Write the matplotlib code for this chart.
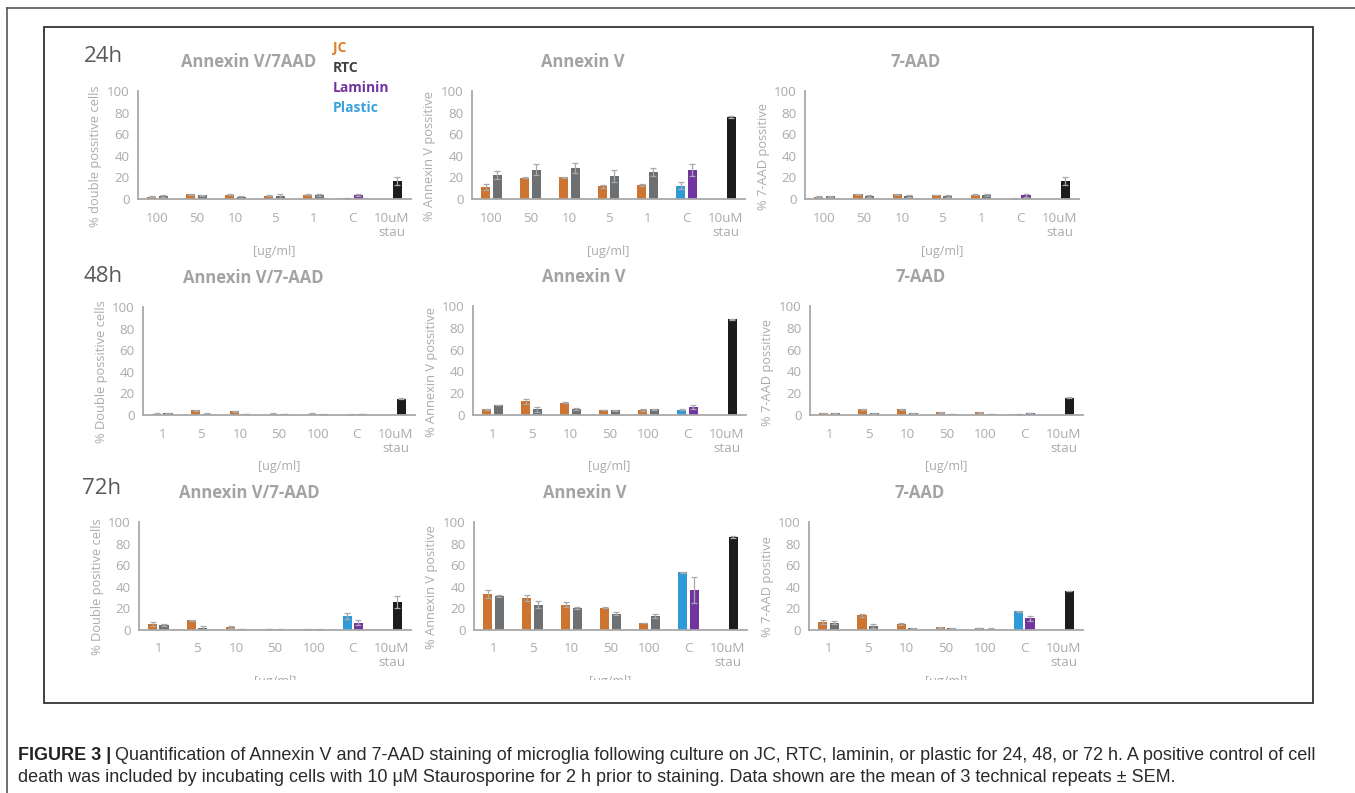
import matplotlib
matplotlib.use("Agg")
import matplotlib.pyplot as plt
from matplotlib.patches import Rectangle
from matplotlib.lines import Line2D

W, H = 1355, 793

# group labels
conc_24 = ['100', '50', '10', '5', '1', 'C', '10uM\nstau']
conc_48 = ['1', '5', '10', '50', '100', 'C', '10uM\nstau']

# 24h - double positive
jc_24_dp = [2.2, 4.3, 4.0, 3.0, 4.0]
jc_24_dp_err = [0.5, 0.5, 0.5, 0.5, 0.5]
rtc_24_dp = [2.8, 3.4, 2.2, 2.8, 3.7]
rtc_24_dp_err = [0.5, 0.6, 1.0, 1.5, 1.0]
ctl_24_dp = [0.5, 3.5, 16.4]       # plastic, laminin, stau
ctl_24_dp_err = [0.2, 1.0, 3.7]

# 24h - annexin V
jc_24_av = [11.0, 19.7, 20.0, 11.7, 13.0]
jc_24_av_err = [2.5, 0.5, 0.5, 1.5, 0.8]
rtc_24_av = [22.0, 27.0, 28.6, 21.5, 25.0]
rtc_24_av_err = [3.5, 5.0, 4.3, 5.5, 4.0]
ctl_24_av = [12.3, 26.5, 75.7]
ctl_24_av_err = [3.0, 5.5, 0.8]

# 24h - 7-AAD
jc_24_aad = [2.2, 4.3, 4.3, 3.7, 4.0]
jc_24_aad_err = [0.4, 0.4, 0.4, 0.4, 0.4]
rtc_24_aad = [2.5, 3.0, 2.8, 3.0, 3.4]
rtc_24_aad_err = [0.5, 1.0, 0.5, 1.0, 1.0]
ctl_24_aad = [0.3, 3.4, 16.6]
ctl_24_aad_err = [0.2, 1.5, 4.0]

# 48h - double positive
jc_48_dp = [1.2, 4.3, 3.4, 1.2, 1.2]
jc_48_dp_err = [0.3, 0.6, 0.6, 0.3, 0.3]
rtc_48_dp = [1.8, 1.2, 0.9, 0.9, 0.6]
rtc_48_dp_err = [0.3, 0.3, 0.2, 0.2, 0.2]
ctl_48_dp = [0.4, 1.0, 15.0]
ctl_48_dp_err = [0.2, 0.3, 0.5]

# 48h - annexin V
jc_48_av = [5.2, 12.5, 11.3, 4.6, 4.6]
jc_48_av_err = [0.4, 2.0, 0.5, 0.4, 0.5]
rtc_48_av = [9.2, 5.2, 5.8, 4.3, 5.2]
rtc_48_av_err = [0.4, 2.0, 1.0, 0.3, 0.4]
ctl_48_av = [4.9, 7.6, 87.8]
ctl_48_av_err = [0.4, 2.0, 0.5]

# 48h - 7-AAD
jc_48_aad = [1.5, 5.2, 5.2, 2.4, 2.4]
jc_48_aad_err = [0.2, 0.3, 0.3, 0.3, 0.3]
rtc_48_aad = [1.5, 1.5, 1.5, 0.9, 0.9]
rtc_48_aad_err = [0.2, 0.2, 0.2, 0.2, 0.2]
ctl_48_aad = [0.6, 1.8, 15.9]
ctl_48_aad_err = [0.2, 0.3, 0.3]

# 72h - double positive
jc_72_dp = [5.8, 9.2, 2.5, 0.9, 0.5]
jc_72_dp_err = [2.0, 0.5, 1.0, 0.2, 0.2]
rtc_72_dp = [4.6, 2.2, 0.9, 0.9, 0.5]
rtc_72_dp_err = [1.0, 1.8, 0.2, 0.2, 0.2]
ctl_72_dp = [13.0, 6.8, 26.0]
ctl_72_dp_err = [2.5, 2.0, 5.4]

# 72h - annexin V
jc_72_av = [33.4, 29.8, 23.6, 20.6, 6.4]
jc_72_av_err = [4.0, 2.5, 2.5, 0.3, 0.3]
rtc_72_av = [31.6, 23.6, 20.0, 15.0, 12.9]
rtc_72_av_err = [1.0, 3.4, 1.0, 1.5, 2.0]
ctl_72_av = [53.4, 37.0, 86.5]
ctl_72_av_err = [0.3, 11.7, 1.0]

# 72h - 7-AAD
jc_72_aad = [7.7, 13.5, 5.2, 2.4, 1.8]
jc_72_aad_err = [1.8, 1.0, 1.0, 0.2, 0.2]
rtc_72_aad = [6.7, 3.4, 1.5, 1.5, 1.2]
rtc_72_aad_err = [1.5, 2.0, 0.2, 0.2, 0.2]
ctl_72_aad = [17.2, 10.7, 36.2]
ctl_72_aad_err = [0.3, 2.5, 0.3]

c_jc = '#CC7430'
c_rtc = '#6D7073'
c_lam = '#7134A0'
c_pla = '#2E9BD8'
c_stau = '#1C1C1C'
c_axis = '#A8A8A8'
c_tick = '#ABABAB'
c_title = '#A3A3A3'
c_err = '#A9A9A9'

font = ['Open Sans', 'DejaVu Sans']

fig = plt.figure(figsize=(W / 100, H / 100), dpi=100)


def box(x0, top, x1, base):
    return [x0 / W, 1 - base / H, (x1 - x0) / W, (base - top) / H]


def draw_panel(x0, top, x1, base, cats, jc, jc_err, rtc, rtc_err, ctl, ctl_err, title, ylabel):
    ax = fig.add_axes(box(x0, top, x1, base))
    idx = list(range(5))
    off, bw = 0.145, 0.235
    ekw = dict(ecolor=c_err, elinewidth=0.9, capsize=2.5, capthick=0.9)
    ax.bar([i - off for i in idx], jc, bw, yerr=jc_err, color=c_jc, error_kw=ekw, zorder=2)
    ax.bar([i + off for i in idx], rtc, bw, yerr=rtc_err, color=c_rtc, error_kw=ekw, zorder=2)
    ax.bar([5 - off], [ctl[0]], bw, yerr=[ctl_err[0]], color=c_pla, error_kw=ekw, zorder=2)
    ax.bar([5 + off], [ctl[1]], bw, yerr=[ctl_err[1]], color=c_lam, error_kw=ekw, zorder=2)
    ax.bar([6 + off], [ctl[2]], bw, yerr=[ctl_err[2]], color=c_stau, error_kw=ekw, zorder=2)
    ax.set_xlim(-0.5, 6.5)
    ax.set_ylim(0, 100)
    ax.set_yticks([0, 20, 40, 60, 80, 100])
    ax.set_xticks(range(7))
    ax.set_xticklabels(cats, linespacing=1.1)
    ax.tick_params(length=0, labelsize=9.6, labelcolor=c_tick, pad=6)
    ax.tick_params(axis='x', pad=9)
    for lab in ax.get_xticklabels() + ax.get_yticklabels():
        lab.set_family(font)
    for s in ['top', 'right']:
        ax.spines[s].set_visible(False)
    for s in ['left', 'bottom']:
        ax.spines[s].set_color(c_axis)
        ax.spines[s].set_linewidth(1.3)
        ax.spines[s].set_zorder(3)
    cx = (x0 + x1) / 2
    fig.text((cx - 26) / W, 1 - (top - 29) / H, title, ha='center', va='center',
             fontsize=12, fontweight='bold', color=c_title, family=font)
    fig.text((x0 - 42) / W, 1 - (base - 43) / H, ylabel, ha='center', va='center',
             rotation=90, fontsize=9.3, color=c_tick, family=font)
    fig.text(cx / W, 1 - (base + 52) / H, '[ug/ml]', ha='center', va='center',
             fontsize=9, color=c_tick, family=font)
    return ax


# row 1 - 24h
draw_panel(138, 91, 411, 199, conc_24, jc_24_dp, jc_24_dp_err, rtc_24_dp, rtc_24_dp_err,
           ctl_24_dp, ctl_24_dp_err, 'Annexin V/7AAD', '% double possitive cells')
draw_panel(472, 91, 745, 199, conc_24, jc_24_av, jc_24_av_err, rtc_24_av, rtc_24_av_err,
           ctl_24_av, ctl_24_av_err, 'Annexin V', '% Annexin V possitive')
draw_panel(805, 91, 1079, 199, conc_24, jc_24_aad, jc_24_aad_err, rtc_24_aad, rtc_24_aad_err,
           ctl_24_aad, ctl_24_aad_err, '7-AAD', '% 7-AAD possitive')

# row 2 - 48h
draw_panel(143, 307, 415, 415, conc_48, jc_48_dp, jc_48_dp_err, rtc_48_dp, rtc_48_dp_err,
           ctl_48_dp, ctl_48_dp_err, 'Annexin V/7-AAD', '% Double possitive cells')
draw_panel(473, 306, 746, 415, conc_48, jc_48_av, jc_48_av_err, rtc_48_av, rtc_48_av_err,
           ctl_48_av, ctl_48_av_err, 'Annexin V', '% Annexin V possitive')
draw_panel(810, 306, 1083, 415, conc_48, jc_48_aad, jc_48_aad_err, rtc_48_aad, rtc_48_aad_err,
           ctl_48_aad, ctl_48_aad_err, '7-AAD', '% 7-AAD possitive')

# row 3 - 72h
draw_panel(139, 522, 411, 630, conc_48, jc_72_dp, jc_72_dp_err, rtc_72_dp, rtc_72_dp_err,
           ctl_72_dp, ctl_72_dp_err, 'Annexin V/7-AAD', '% Double positive cells')
draw_panel(474, 522, 747, 630, conc_48, jc_72_av, jc_72_av_err, rtc_72_av, rtc_72_av_err,
           ctl_72_av, ctl_72_av_err, 'Annexin V', '% Annexin V positive')
draw_panel(809, 522, 1083, 630, conc_48, jc_72_aad, jc_72_aad_err, rtc_72_aad, rtc_72_aad_err,
           ctl_72_aad, ctl_72_aad_err, '7-AAD', '% 7-AAD positive')

# bottom row xlabel is cut off in the original
fig.patches.append(Rectangle((46 / W, 1 - 701 / H), 1265 / W, 21 / H, transform=fig.transFigure,
                             facecolor='white', edgecolor='none', zorder=5))

# time point labels
for txt, x, y in [('24h', 84, 56), ('48h', 84, 276), ('72h', 82, 489)]:
    fig.text(x / W, 1 - y / H, txt, ha='left', va='center', fontsize=16,
             color='#595959', family=font)

# legend as coloured words
for txt, col, y in [('JC', '#E07B28', 48), ('RTC', '#404040', 68),
                    ('Laminin', c_lam, 88), ('Plastic', '#3AA2E0', 108)]:
    fig.text(333 / W, 1 - y / H, txt, ha='left', va='center', fontsize=10,
             fontweight='bold', color=col, family=font)

# frames
fig.lines.append(Line2D([7 / W, 1], [1 - 8 / H, 1 - 8 / H], transform=fig.transFigure,
                        color='#555555', lw=1.2))
fig.lines.append(Line2D([7 / W, 7 / W], [0, 1 - 8 / H], transform=fig.transFigure,
                        color='#555555', lw=1.2))
fig.patches.append(Rectangle((44 / W, 1 - 703 / H), 1269 / W, 676 / H, transform=fig.transFigure,
                             facecolor='none', edgecolor='#333333', lw=1.3, zorder=6))

# caption
cap_font = ['Liberation Sans Narrow', 'Liberation Sans', 'DejaVu Sans']
t1 = fig.text(18 / W, 1 - 756 / H, 'FIGURE 3 |', ha='left', va='center', fontsize=13,
              fontweight='bold', color='#222222', family=cap_font)
fig.canvas.draw()
bb = t1.get_window_extent(fig.canvas.get_renderer())
fig.text((bb.x1 + 4) / W, 1 - 756 / H,
         'Quantification of Annexin V and 7-AAD staining of microglia following culture on JC, RTC, '
         'laminin, or plastic for 24, 48, or 72 h. A positive control of cell',
         ha='left', va='center', fontsize=13, color='#2A2A2A', family=cap_font)
fig.text(18 / W, 1 - 777 / H,
         'death was included by incubating cells with 10 \u03bcM Staurosporine for 2 h prior to staining. '
         'Data shown are the mean of 3 technical repeats \u00b1 SEM.',
         ha='left', va='center', fontsize=13, color='#2A2A2A', family=cap_font)

fig.savefig('out.png', dpi=100)
